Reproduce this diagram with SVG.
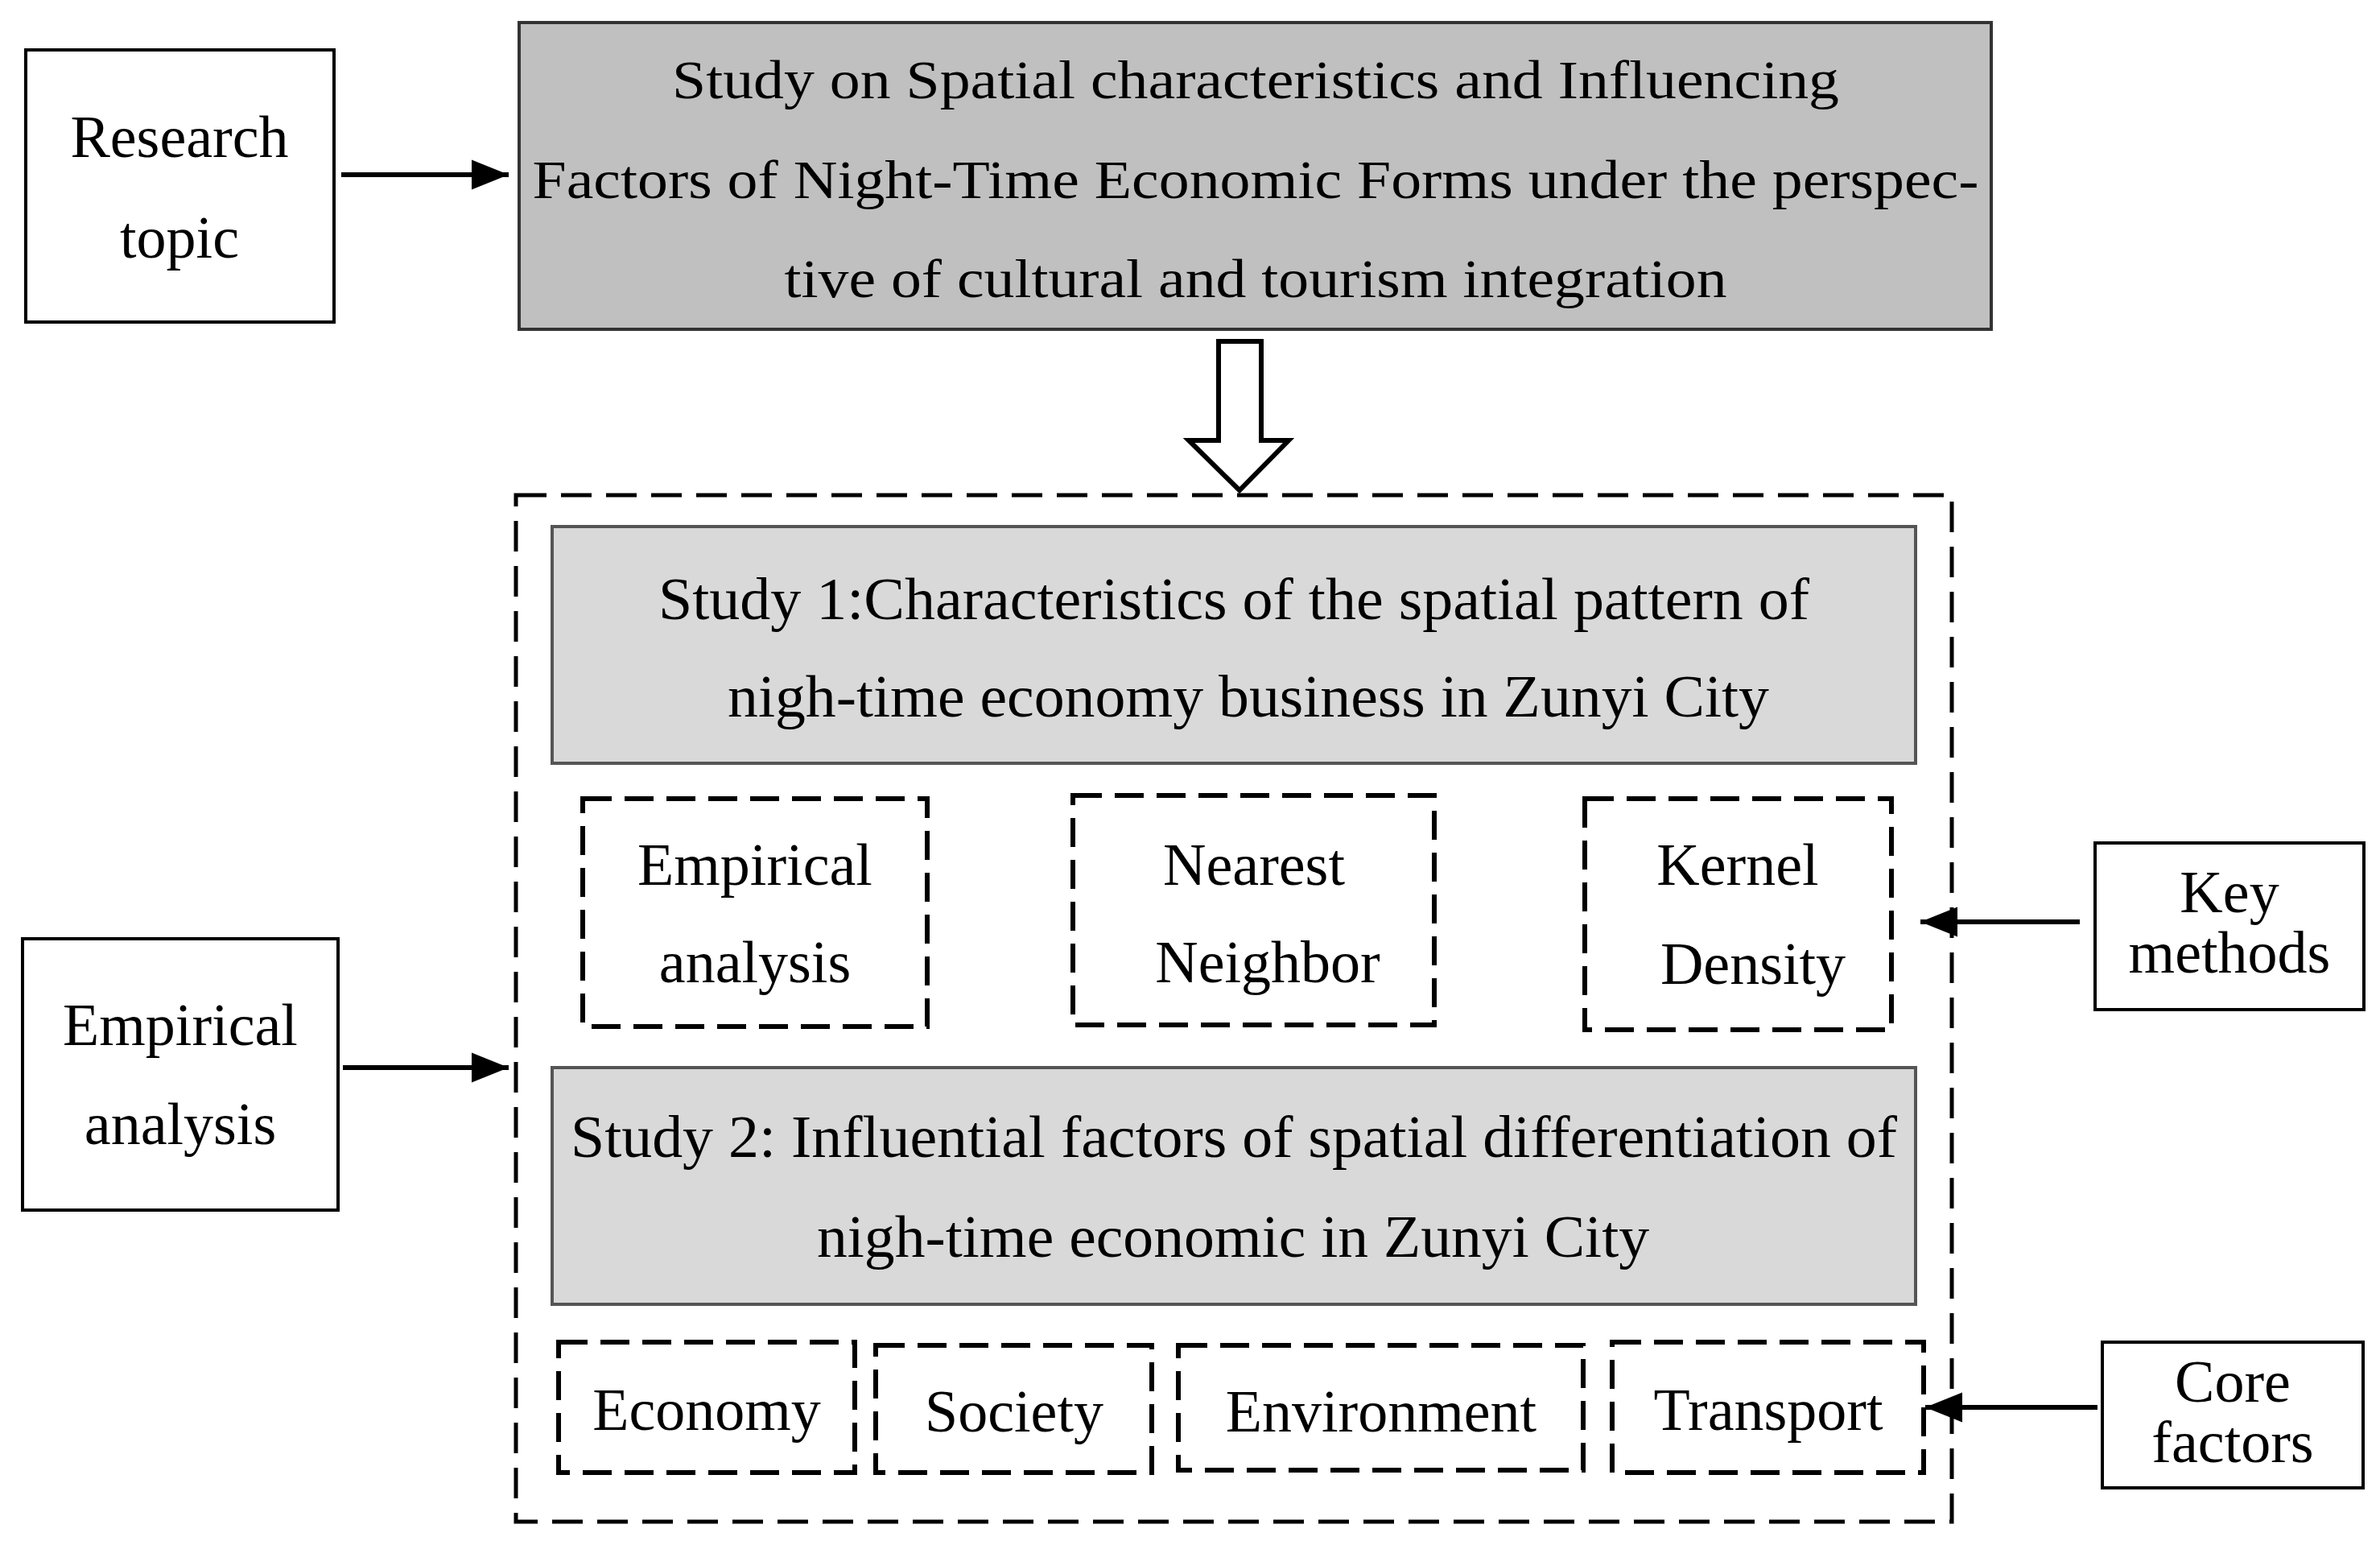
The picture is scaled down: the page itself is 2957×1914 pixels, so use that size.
<svg xmlns="http://www.w3.org/2000/svg" width="2957" height="1914" viewBox="0 0 2957 1914">
<style>
text{font-family:"Liberation Serif","Times New Roman",serif;font-size:74px;fill:#000;text-anchor:middle}
.t{font-size:68px}
.solid{fill:#fff;stroke:#000;stroke-width:4}
.dash{fill:#fff;stroke:#000;stroke-width:6;stroke-dasharray:36 16}
.ln{stroke:#000;stroke-width:6;fill:none}
</style>
<defs>
<marker id="a" viewBox="0 0 10 10" refX="10" refY="5" markerWidth="46" markerHeight="46" markerUnits="userSpaceOnUse" orient="auto"><path d="M0,1L10,5L0,9z" fill="#000"/></marker></defs>
<g id="research-topic"><rect class="solid" x="32" y="62" width="383" height="338"/><text x="223" y="195">Research</text><text x="223" y="320">topic</text></g>
<g id="title"><rect x="645" y="28" width="1829" height="381" fill="#c0c0c0" stroke="#333" stroke-width="4"/>
<text class="t" x="1560" y="122" textLength="1450" lengthAdjust="spacingAndGlyphs">Study on Spatial characteristics and Influencing</text>
<text class="t" x="1560" y="246" textLength="1797" lengthAdjust="spacingAndGlyphs">Factors of Night-Time Economic Forms under the perspec-</text>
<text class="t" x="1560" y="369" textLength="1171" lengthAdjust="spacingAndGlyphs">tive of cultural and tourism integration</text></g>
<g id="framework"><rect x="641" y="615" width="1784" height="1275" fill="none" stroke="#000" stroke-width="5" stroke-dasharray="38 18"/></g>
<g id="study1"><rect x="686" y="654" width="1694" height="294" fill="#d9d9d9" stroke="#555" stroke-width="4"/>
<text x="1533" y="769" textLength="1430" lengthAdjust="spacingAndGlyphs">Study 1:Characteristics of the spatial pattern of</text>
<text x="1551" y="890" textLength="1294" lengthAdjust="spacingAndGlyphs">nigh-time economy business in Zunyi City</text></g>
<g id="m-empirical"><rect class="dash" x="724" y="992" width="428" height="283"/><text x="938" y="1099">Empirical</text><text x="938" y="1220">analysis</text></g>
<g id="m-nearest"><rect class="dash" x="1333" y="988" width="449" height="285"/><text x="1558" y="1099">Nearest</text><text x="1575" y="1220">Neighbor</text></g>
<g id="m-kernel"><rect class="dash" x="1969" y="992" width="381" height="287"/><text x="2159" y="1099">Kernel</text><text x="2178" y="1222">Density</text></g>
<g id="key-methods"><rect class="solid" x="2603" y="1047" width="334" height="207"/><text x="2770" y="1133">Key</text><text x="2770" y="1208">methods</text></g>
<g id="study2"><rect x="686" y="1326" width="1694" height="294" fill="#d9d9d9" stroke="#555" stroke-width="4"/>
<text x="1533" y="1437" textLength="1648" lengthAdjust="spacingAndGlyphs">Study 2: Influential factors of spatial differentiation of</text>
<text x="1532" y="1561" textLength="1034" lengthAdjust="spacingAndGlyphs">nigh-time economic in Zunyi City</text></g>
<g id="empirical-analysis"><rect class="solid" x="28" y="1166" width="392" height="337"/><text x="224" y="1298">Empirical</text><text x="224" y="1421">analysis</text></g>
<g id="f-economy"><rect class="dash" x="694" y="1667" width="368" height="162"/><text x="878" y="1776">Economy</text></g>
<g id="f-society"><rect class="dash" x="1088" y="1671" width="343" height="158"/><text x="1260" y="1778">Society</text></g>
<g id="f-environment"><rect class="dash" x="1464" y="1671" width="503" height="155"/><text x="1716" y="1778">Environment</text></g>
<g id="f-transport"><rect class="dash" x="2003" y="1667" width="387" height="162"/><text x="2197" y="1776">Transport</text></g>
<g id="core-factors"><rect class="solid" x="2612" y="1667" width="324" height="181"/><text x="2774" y="1741">Core</text><text x="2774" y="1816">factors</text></g>
<g id="connectors">
<line class="ln" x1="424" y1="217" x2="632" y2="217" marker-end="url(#a)"/>
<line class="ln" x1="426" y1="1326" x2="632" y2="1326" marker-end="url(#a)"/>
<line class="ln" x1="2584" y1="1145" x2="2386" y2="1145" marker-end="url(#a)"/>
<line class="ln" x1="2606" y1="1748" x2="2392" y2="1748" marker-end="url(#a)"/>
<path d="M1514,424H1567V547H1601L1540,609L1477,547H1514Z" fill="#fff" stroke="#000" stroke-width="6"/>
</g>
</svg>
